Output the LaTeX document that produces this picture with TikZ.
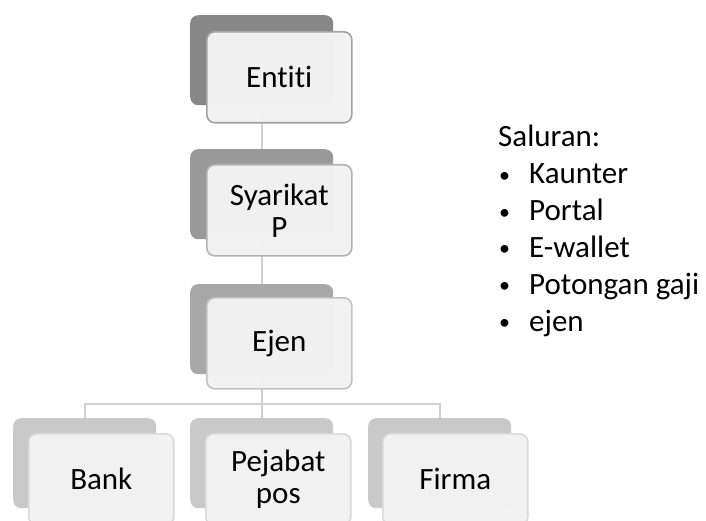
\documentclass[tikz,border=0pt]{standalone}
\usepackage{fontspec}
\setmainfont[Ligatures=NoCommon]{Carlito}
\newcommand{\blt}{\makebox[31pt][l]{\hspace{1pt}\raisebox{1.5pt}{\fontsize{22}{22}\selectfont\textbullet}}}
\begin{document}
\begin{tikzpicture}[x=1pt,y=-1pt,
  back/.style={draw=none,rounded corners=8pt,minimum width=143pt,minimum height=90pt,anchor=north west,inner sep=0pt},
  front/.style={rounded corners=8pt,minimum width=145pt,minimum height=91pt,anchor=north west,inner sep=0pt,
     fill=white!95!black,fill opacity=0.985,text opacity=1,line width=1.6pt,align=center,
     font=\fontsize{31}{32}\selectfont},
  conn/.style={draw=black!18,line width=1.8pt},
  lst/.style={anchor=base west,inner sep=0pt,font=\fontsize{31}{36}\selectfont}]
\clip (0,0) rectangle (706,521);
\useasboundingbox (0,0) rectangle (706,521);
% back cards
\node[back,fill=black!47] (ed) at (190,15) {};
\node[back,fill=black!40] (sd) at (190,149) {};
\node[back,fill=black!34] (jd) at (190,284) {};
\node[back,fill=black!21] (bd) at (13,418) {};
\node[back,fill=black!21] (pd) at (190,418) {};
\node[back,fill=black!21] (fd) at (368,418) {};
% connectors
\coordinate (hub) at (261,404);
\draw[conn] (ed.south) -- (sd.north);
\draw[conn] (sd.south) -- (jd.north);
\draw[conn] (jd.south) -- (pd.north);
\draw[conn] (bd.north) |- (hub) -| (fd.north);
% front cards
\node[front,draw=black!36] (ef) at (206,31) {Entiti};
\node[front,draw=black!30] (sf) at (206,164) {Syarikat\\P};
\node[front,draw=black!24] (jf) at (206,297) {Ejen};
\node[front,draw=black!15] (bf) at (28,433) {Bank};
\node[front,draw=black!15] (pf) at (205,433) {Pejabat\\pos};
\node[front,draw=black!15] (ff) at (382,433) {Firma};
% list
\node[lst] (sal) at (498,147) {Saluran:};
\node[lst] (l1) at (498,184) {\blt Kaunter};
\node[lst] (l2) at (498,221) {\blt Portal};
\node[lst] (l3) at (498,257) {\blt E-wallet};
\node[lst] (l4) at (498,294) {\blt Potongan gaji};
\node[lst] (l5) at (498,331) {\blt ejen};
\end{tikzpicture}
\end{document}
